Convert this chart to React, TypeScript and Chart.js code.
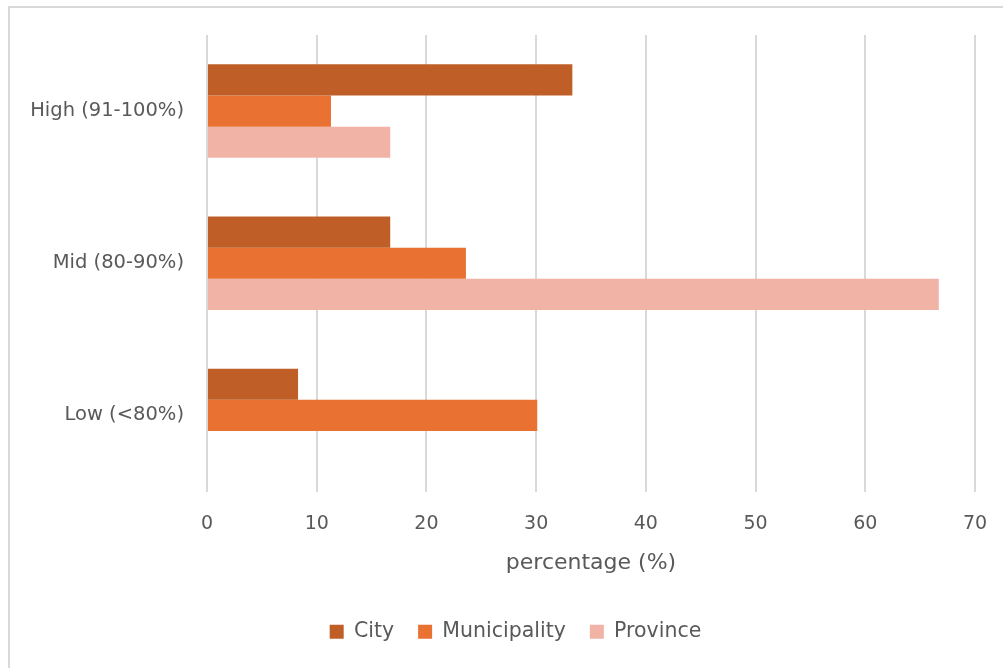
import React, { useEffect, useRef } from "react";
import { Chart, registerables } from "chart.js";

Chart.register(...registerables);

const categories = ["High (91-100%)", "Mid (80-90%)", "Low (<80%)"];
const seriesNames = ["City", "Municipality", "Province"];
const cityValues = [33.3, 16.7, 8.3];
const municipalityValues = [11.3, 23.6, 30.1];
const provinceValues = [16.7, 66.7, 0];
const xMin = 0;
const xMax = 70;
const xStep = 10;
const xTitle = "percentage (%)";

const COLORS = ["#C05E28", "#E97132", "#F1B3A6"];
const TEXT = "#595959";
const FONT = "'DejaVu Sans', sans-serif";
const FRAME = "#d9d9d9";

export default function App() {
  const ref = useRef<HTMLCanvasElement | null>(null);

  useEffect(() => {
    if (!ref.current) return;
    const chart = new Chart(ref.current, {
      type: "bar",
      data: {
        labels: categories,
        datasets: [cityValues, municipalityValues, provinceValues].map((d, i) => ({
          label: seriesNames[i],
          data: d,
          backgroundColor: COLORS[i],
          borderWidth: 0,
          barPercentage: 1,
          categoryPercentage: 0.615,
        })),
      },
      options: {
        indexAxis: "y",
        animation: false,
        responsive: false,
        maintainAspectRatio: false,
        layout: { padding: { top: 27, right: 0, bottom: 16, left: 18 } },
        plugins: {
          tooltip: { enabled: false },
          legend: {
            position: "bottom",
            labels: {
              boxWidth: 14,
              boxHeight: 14,
              padding: 24,
              color: TEXT,
              font: { family: FONT, size: 20.5 },
            },
          },
        },
        scales: {
          x: {
            min: xMin,
            max: xMax,
            ticks: {
              stepSize: xStep,
              color: TEXT,
              padding: 21,
              font: { family: FONT, size: 19 },
            },
            grid: { color: FRAME, lineWidth: 2, drawTicks: false },
            border: { display: false },
            title: {
              display: true,
              text: xTitle,
              color: TEXT,
              font: { family: FONT, size: 22 },
              padding: { top: 0, bottom: 21 },
            },
            afterFit: (s: any) => {
              s.height = 106;
              s.paddingLeft = 0;
              s.paddingRight = 0;
            },
          },
          y: {
            ticks: {
              color: TEXT,
              padding: 23,
              font: { family: FONT, size: 19.5 },
            },
            grid: { display: false, drawTicks: false },
            border: { display: false },
            afterFit: (s: any) => {
              s.width = 179;
              s.paddingTop = 0;
              s.paddingBottom = 0;
            },
          },
          y2: {
            position: "right",
            display: true,
            ticks: { display: false },
            grid: { display: false, drawTicks: false },
            border: { display: false },
            afterFit: (s: any) => {
              s.width = 28;
              s.paddingTop = 0;
              s.paddingBottom = 0;
            },
          },
        },
      },
    } as any);
    return () => chart.destroy();
  }, []);

  return (
    <div style={{ position: "absolute", left: 0, top: 0, width: 1003, height: 668, overflow: "hidden" }}>
      <div style={{ position: "absolute", left: 8, top: 6, width: 995, height: 2, background: FRAME }} />
      <div style={{ position: "absolute", left: 8, top: 6, width: 2, height: 662, background: FRAME }} />
      <canvas
        ref={ref}
        width={993}
        height={660}
        style={{ position: "absolute", left: 10, top: 8, display: "block" }}
      />
    </div>
  );
}
